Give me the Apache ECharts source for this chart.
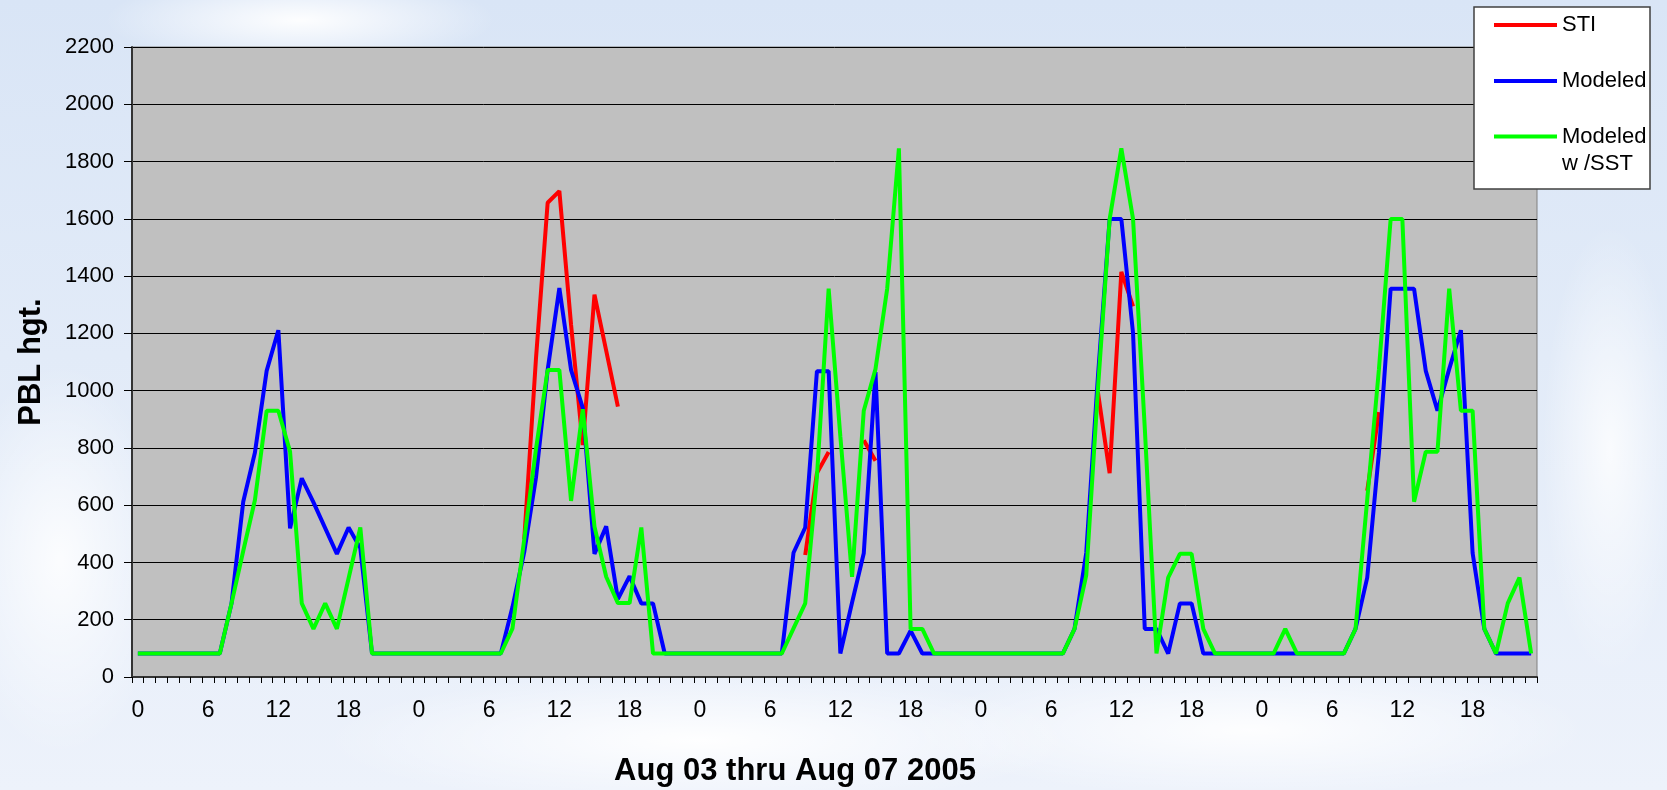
<!DOCTYPE html>
<html>
<head>
<meta charset="utf-8">
<script src="https://cdn.jsdelivr.net/npm/echarts@6/dist/echarts.min.js"></script>
<style>
html,body{margin:0;padding:0;}
body{
  width:1667px;height:790px;overflow:hidden;
  background:
    radial-gradient(ellipse 260px 60px at 300px 20px, rgba(255,255,255,0.95), rgba(255,255,255,0) 75%),
    radial-gradient(ellipse 140px 260px at 60px 560px, rgba(255,255,255,0.85), rgba(255,255,255,0) 75%),
    radial-gradient(ellipse 500px 90px at 700px 740px, rgba(255,255,255,0.95), rgba(255,255,255,0) 75%),
    radial-gradient(ellipse 450px 90px at 1250px 730px, rgba(255,255,255,0.9), rgba(255,255,255,0) 75%),
    radial-gradient(ellipse 90px 300px at 1610px 450px, rgba(255,255,255,0.8), rgba(255,255,255,0) 75%),
    linear-gradient(180deg, #d9e5f6 0%, #e2ebf8 45%, #edf2fb 100%);
}
#chart{width:1667px;height:790px;}
</style>
</head>
<body>
<div id="chart"></div>
<script>
// ---- data ----
const days = ['Aug 03', 'Aug 04', 'Aug 05', 'Aug 06', 'Aug 07'];
const hours = [0,1,2,3,4,5,6,7,8,9,10,11,12,13,14,15,16,17,18,19,20,21,22,23];
const tickHours = ['0', '6', '12', '18'];

const sti = [
  // Aug 03
  null,null,null,null,null,null,null,null,null,null,null,null,null,null,null,null,null,null,null,null,null,null,null,null,
  // Aug 04
  null,null,null,null,null,null,null,null,null,480,1110,1656,1697,1230,810,1335,1140,944,null,null,null,null,null,null,
  // Aug 05
  null,null,null,null,null,null,null,null,null,426,712,786,null,null,827,755,null,null,null,null,null,null,null,null,
  // Aug 06
  null,null,null,null,null,null,null,null,null,null,994,712,1415,1294,null,null,null,null,null,null,null,null,null,null,
  // Aug 07
  null,null,null,null,null,null,null,null,null,650,925,null,null,null,null,null,null,null,null,null,null,null,null,null
];

const modeled = [
  // Aug 03
  82,82,82,82,82,82,82,82,257,612,784,1069,1211,519,694,610,520,430,522,450,82,82,82,82,
  // Aug 04
  82,82,82,82,82,82,82,82,245,436,695,1072,1358,1072,940,430,526,272,352,257,257,82,82,82,
  // Aug 05
  82,82,82,82,82,82,82,82,434,522,1068,1068,82,260,432,1065,82,82,162,82,82,82,82,82,
  // Aug 06
  82,82,82,82,82,82,82,82,168,433,1050,1599,1599,1200,168,168,82,257,257,82,82,82,82,82,
  // Aug 07
  82,82,82,82,82,82,82,82,168,347,784,1356,1356,1356,1069,930,1075,1211,433,168,82,82,82,82
];

const modeledSST = [
  // Aug 03
  82,82,82,82,82,82,82,82,257,440,618,930,930,787,257,168,257,168,345,522,82,82,82,82,
  // Aug 04
  82,82,82,82,82,82,82,82,170,480,795,1072,1072,615,935,525,350,258,258,522,82,82,82,82,
  // Aug 05
  82,82,82,82,82,82,82,82,170,257,700,1356,840,350,930,1075,1356,1846,168,168,82,82,82,82,
  // Aug 06
  82,82,82,82,82,82,82,82,168,355,1005,1599,1846,1599,870,82,347,430,430,168,82,82,82,82,
  // Aug 07
  82,82,168,82,82,82,82,82,168,620,1075,1599,1599,612,787,787,1356,930,930,168,82,257,347,82
];

const seriesNames = ['STI', 'Modeled', 'Modeled w /SST'];
const seriesColors = ['#ff0000', '#0000ff', '#00ff00'];

// categories: one per hour over the five days
const categories = [];
days.forEach(d => hours.forEach(h => categories.push(d + ' ' + h)));

const chart = echarts.init(document.getElementById('chart'), null, {renderer: 'canvas'});

const G = {left: 132, right: 130, top: 47, bottom: 113};
const legendText = {fontFamily: "'Liberation Sans', Arial, sans-serif", fontSize: 22, color: '#000'};

const option = {
  backgroundColor: 'transparent',
  animation: false,
  grid: {
    left: G.left, right: G.right, top: G.top, bottom: G.bottom,
    containLabel: false, outerBoundsMode: 'none',
    show: true, backgroundColor: '#c0c0c0', borderColor: '#808080', borderWidth: 1
  },
  xAxis: {
    type: 'category',
    data: categories,
    boundaryGap: true,
    axisLine: {show: true, onZero: false, lineStyle: {color: '#333', width: 2}},
    axisTick: {show: true, interval: 0, length: 6, inside: false, lineStyle: {color: '#000', width: 1}},
    axisLabel: {
      interval: 5,
      margin: 22,
      color: '#000',
      fontFamily: "'Liberation Sans', Arial, sans-serif",
      fontSize: 23,
      formatter: (v) => { const h = v.split(' ').pop(); return tickHours.includes(h) ? h : ''; }
    },
    splitLine: {show: false}
  },
  yAxis: {
    type: 'value',
    min: 0, max: 2200, interval: 200,
    name: 'PBL hgt.',
    nameLocation: 'middle',
    nameRotate: 90,
    nameGap: 85,
    nameTextStyle: {fontFamily: "'Liberation Sans', Arial, sans-serif", fontWeight: 'bold', fontSize: 31, color: '#000'},
    axisLine: {show: true, lineStyle: {color: '#333', width: 2}},
    axisTick: {show: true, length: 8, lineStyle: {color: '#000'}},
    axisLabel: {margin: 18, color: '#000', fontFamily: "'Liberation Sans', Arial, sans-serif", fontSize: 22,
      formatter: (v) => String(v)},
    splitLine: {show: true, lineStyle: {color: '#000', width: 1}}
  },
  legend: [
    {data: [seriesNames[0]], left: 1494, top: 14, padding: 0, icon: 'rect', itemWidth: 63, itemHeight: 4,
     textStyle: legendText, z: 10},
    {data: [seriesNames[1]], left: 1494, top: 70, padding: 0, icon: 'rect', itemWidth: 63, itemHeight: 4,
     textStyle: legendText, z: 10},
    {data: [seriesNames[2]], left: 1494, top: 96, padding: 0, icon: 'rect', itemWidth: 63, itemHeight: 4,
     formatter: () => '\nModeled\nw /SST',
     textStyle: Object.assign({lineHeight: 27}, legendText), z: 10}
  ],
  graphic: [
    {type: 'rect', shape: {x: 1474, y: 7, width: 176, height: 182}, style: {fill: '#fff', stroke: '#404040', lineWidth: 1.5}, z: 5, silent: true},
    {type: 'text', style: {x: 795, y: 771, text: 'Aug 03 thru Aug 07 2005', align: 'center', verticalAlign: 'middle',
      font: "bold 31px 'Liberation Sans', Arial, sans-serif", fill: '#000'}}
  ],
  series: [
    {name: seriesNames[0], type: 'line', data: sti, color: seriesColors[0], symbol: 'none', connectNulls: false,
     lineStyle: {width: 4, color: seriesColors[0]}, z: 2},
    {name: seriesNames[1], type: 'line', data: modeled, color: seriesColors[1], symbol: 'none',
     lineStyle: {width: 4, color: seriesColors[1]}, z: 3},
    {name: seriesNames[2], type: 'line', data: modeledSST, color: seriesColors[2], symbol: 'none',
     lineStyle: {width: 4, color: seriesColors[2]}, z: 4}
  ]
};
chart.setOption(option);
</script>
</body>
</html>
